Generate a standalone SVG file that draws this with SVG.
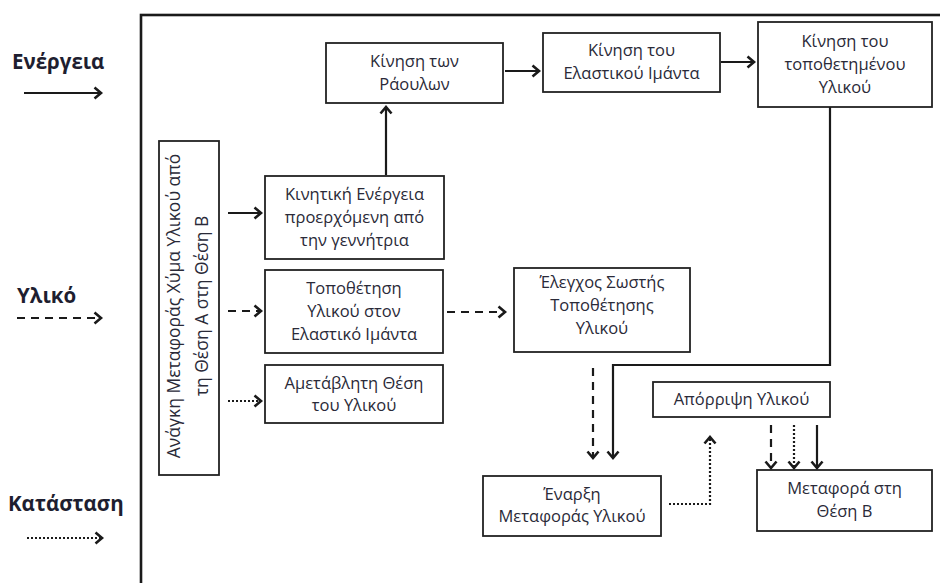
<svg xmlns="http://www.w3.org/2000/svg" width="940" height="583" viewBox="0 0 940 583">
  <style>
    .box { fill: #ffffff; stroke: #222222; stroke-width: 1.8; }
    .t { font-family: "Open Sans", "Noto Sans", "DejaVu Sans", sans-serif; font-size: 16.5px; fill: #2a2a38; text-anchor: middle; }
    .rot { font-size: 17.5px; }
    .lg { font-family: "Open Sans", "Noto Sans", "DejaVu Sans", sans-serif; font-size: 20.5px; font-weight: bold; fill: #1e1e30; }
    .c { fill: none; stroke: #1a1a1a; stroke-width: 2.2; }
    .dash { stroke-dasharray: 8 6; }
    .dot { stroke-dasharray: 2 2; }
  </style>
  <defs>
    <marker id="head" markerWidth="12" markerHeight="14" refX="8" refY="7" orient="auto" markerUnits="userSpaceOnUse">
      <path d="M1.5,1.5 L8,7 L1.5,12.5" fill="none" stroke="#1a1a1a" stroke-width="2.6" stroke-linejoin="miter"/>
    </marker>
  </defs>

  <rect width="940" height="583" fill="#ffffff"/>

  <!-- outer frame, running past the right and bottom edges -->
  <rect x="141" y="15" width="820" height="600" fill="none" stroke="#1a1a1a" stroke-width="2.6"/>

  <!-- legend -->
  <g id="legend">
    <text class="lg" x="12" y="69">Ενέργεια</text>
    <line class="c" x1="24" y1="93" x2="101" y2="93" marker-end="url(#head)"/>
    <text class="lg" x="17" y="303">Υλικό</text>
    <line class="c dash" x1="17" y1="318" x2="101" y2="318" marker-end="url(#head)"/>
    <text class="lg" x="8" y="511">Κατάσταση</text>
    <line class="c dot" x1="27" y1="538" x2="102" y2="538" marker-end="url(#head)"/>
  </g>

  <!-- nodes -->
  <g id="need">
    <rect class="box" x="159" y="141" width="60" height="334"/>
    <text class="t rot" transform="translate(189,306) rotate(-90)"><tspan x="0" y="-9">Ανάγκη Μεταφοράς Χύμα Υλικού από</tspan><tspan x="0" y="19">τη Θέση Α στη Θέση Β</tspan></text>
  </g>

  <g id="kinetic">
    <rect class="box" x="265" y="176" width="179" height="83"/>
    <text class="t"><tspan x="354.5" y="200">Κινητική Ενέργεια</tspan><tspan x="354.5" y="223">προερχόμενη από</tspan><tspan x="354.5" y="246">την γεννήτρια</tspan></text>
  </g>

  <g id="placement">
    <rect class="box" x="265" y="270" width="178" height="83"/>
    <text class="t"><tspan x="354" y="294">Τοποθέτηση</tspan><tspan x="354" y="317">Υλικού στον</tspan><tspan x="354" y="340">Ελαστικό Ιμάντα</tspan></text>
  </g>

  <g id="unchanged">
    <rect class="box" x="265" y="365" width="178" height="58"/>
    <text class="t"><tspan x="354" y="389">Αμετάβλητη Θέση</tspan><tspan x="354" y="411">του Υλικού</tspan></text>
  </g>

  <g id="rollers">
    <rect class="box" x="326" y="43" width="177" height="60"/>
    <text class="t"><tspan x="414.5" y="67">Κίνηση των</tspan><tspan x="414.5" y="90">Ράουλων</tspan></text>
  </g>

  <g id="belt">
    <rect class="box" x="543" y="33" width="177" height="59"/>
    <text class="t"><tspan x="631.5" y="56">Κίνηση του</tspan><tspan x="631.5" y="79">Ελαστικού Ιμάντα</tspan></text>
  </g>

  <g id="placed">
    <rect class="box" x="758" y="22" width="174" height="85"/>
    <text class="t"><tspan x="845" y="47">Κίνηση του</tspan><tspan x="845" y="70">τοποθετημένου</tspan><tspan x="845" y="93">Υλικού</tspan></text>
  </g>

  <g id="check">
    <rect class="box" x="514" y="268" width="176" height="84"/>
    <text class="t"><tspan x="602" y="288">Έλεγχος Σωστής</tspan><tspan x="602" y="311">Τοποθέτησης</tspan><tspan x="602" y="334">Υλικού</tspan></text>
  </g>

  <g id="reject">
    <rect class="box" x="653" y="382" width="177" height="35"/>
    <text class="t" x="741.5" y="405">Απόρριψη Υλικού</text>
  </g>

  <g id="start">
    <rect class="box" x="483" y="476" width="178" height="60"/>
    <text class="t"><tspan x="572" y="500">Έναρξη</tspan><tspan x="572" y="522">Μεταφοράς Υλικού</tspan></text>
  </g>

  <g id="transfer">
    <rect class="box" x="757" y="470" width="175" height="61"/>
    <text class="t"><tspan x="844.5" y="494">Μεταφορά στη</tspan><tspan x="844.5" y="517">Θέση Β</tspan></text>
  </g>

  <!-- connectors -->
  <g id="connectors">
    <line class="c" x1="228" y1="213" x2="261" y2="213" marker-end="url(#head)"/>
    <line class="c dash" x1="228" y1="311" x2="261" y2="311" marker-end="url(#head)"/>
    <line class="c dot" x1="228" y1="401" x2="261" y2="401" marker-end="url(#head)"/>
    <line class="c" x1="386" y1="175" x2="386" y2="107" marker-end="url(#head)"/>
    <line class="c" x1="505" y1="71" x2="539" y2="71" marker-end="url(#head)"/>
    <line class="c" x1="721" y1="62" x2="754" y2="62" marker-end="url(#head)"/>
    <line class="c dash" x1="447" y1="312" x2="505" y2="312" marker-end="url(#head)"/>
    <line class="c dash" x1="593" y1="368" x2="593" y2="458" marker-end="url(#head)"/>
    <path class="c" d="M830,107 V365 H613 V458" marker-end="url(#head)"/>
    <path class="c dot" d="M669,504 H710 V437" marker-end="url(#head)"/>
    <line class="c dash" x1="771" y1="425" x2="771" y2="468" marker-end="url(#head)"/>
    <line class="c dot" x1="794" y1="425" x2="794" y2="468" marker-end="url(#head)"/>
    <line class="c" x1="817" y1="425" x2="817" y2="468" marker-end="url(#head)"/>
  </g>
</svg>
